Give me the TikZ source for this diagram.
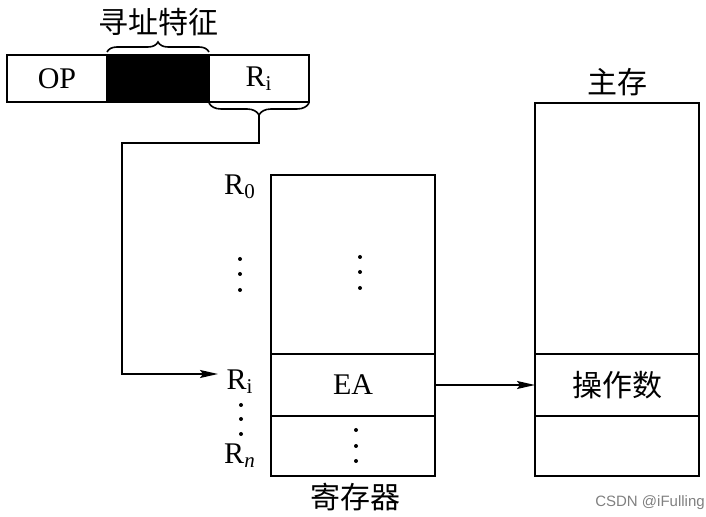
\documentclass[tikz,border=0pt]{standalone}
\usepackage{fontspec}
\setmainfont{Liberation Serif}
\newfontfamily\cjk{Noto Sans CJK SC}
\newfontfamily\wmfont{Liberation Sans}
\usetikzlibrary{arrows.meta, positioning, calc}
\usetikzlibrary{decorations.pathreplacing}

\tikzset{
	cell/.style = {draw, line width=1.2pt, inner sep=0pt, outer sep=0pt, minimum width=82pt},
	link/.style = {line width=0.8pt, -{Stealth[length=9pt, width=4pt, inset=1.5pt]}},
	txt/.style = {font=\fontsize{15}{18}\selectfont},
	cjktxt/.style = {font=\cjk\fontsize{15}{18}\selectfont},
	bracket/.style = {decorate, line width=0.8pt}
}

\begin{document}
\begin{tikzpicture}[x=0.5pt, y=-0.5pt, txt]
	\useasboundingbox (0,0) rectangle (706,517);
	
	% instruction word
	\node[cell, minimum width=50pt, minimum height=23.5pt] (op) at (57,78.5) {OP};
	\node[cell, fill, minimum width=51pt, minimum height=23.5pt, right=0pt of op] (addr) {};
	\node[cell, minimum width=50pt, minimum height=23.5pt, right=0pt of addr] (ri) {R\textsubscript{i}};
	\draw[bracket, decoration={brace, amplitude=5pt}] ($(addr.north west)+(0,-3)$) -- ($(addr.north east)+(0,-3)$);
	\node[cjktxt] (feat) at (158,22) {寻址特征};
	\draw[bracket, decoration={brace, amplitude=6pt}] ($(ri.south east)+(0,1)$) -- ($(ri.south west)+(0,1)$);
	\coordinate (tip) at ($(ri.south)+(0,13)$);
	\coordinate (bend) at (122,143);
	\coordinate (ritip) at (218,374);
	
	% registers
	\node[cell, minimum height=89.5pt] (regtop) at (353,264.5) {};
	\node[cell, minimum height=31pt, below=0pt of regtop] (regea) {EA};
	\node[cell, minimum height=30pt, below=0pt of regea] (regbot) {};
	\node (rzero) at (240,187) {R\textsubscript{0}};
	\node (rili) at (240,382) {R\textsubscript{i}};
	\node (rn) at (240,456) {R\textsubscript{\textit{n}}};
	\node[cjktxt] (reglab) at (355,497) {寄存器};
	
	% main memory
	\node[cell, minimum height=125.5pt] (memtop) at (617,228.5) {};
	\node[cell, cjktxt, minimum height=31pt, below=0pt of memtop] (memop) {操作数};
	\node[cell, minimum height=30pt, below=0pt of memop] (membot) {};
	\node[cjktxt] (memlab) at (617,82) {主存};
	
	\foreach \x/\y in {240/259, 240/274, 240/290, 360/257, 360/272, 360/288,
		356/430, 356/446, 356/461, 241/405, 241/419, 241/434}
		\fill (\x,\y) circle (1pt);
	
	\draw[link] (tip) |- (bend) |- (ritip);
	\draw[link] (regea.east) -- (memop.west);
	
	\node[font=\wmfont\fontsize{7.5}{9}\selectfont, text=gray] (mark) at (650,503) {CSDN @iFulling};
\end{tikzpicture}
\end{document}
